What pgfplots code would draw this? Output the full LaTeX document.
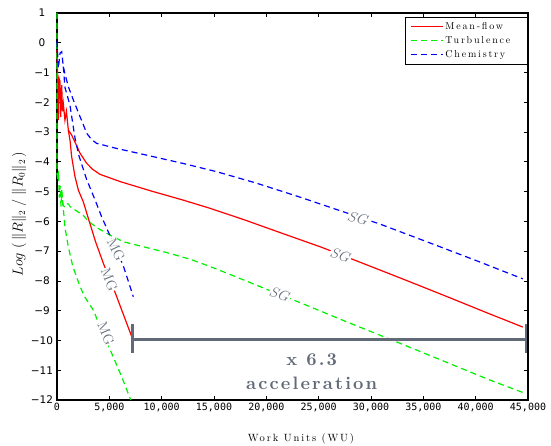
\documentclass[border=0pt]{standalone}
\usepackage{pgfplots}
\pgfplotsset{compat=1.18}
\usepackage{fontspec}
\usetikzlibrary{calc}
\newfontfamily\tickmono{DejaVu Sans Mono}
\newfontfamily\ticksans{DejaVu Sans}
\newfontfamily\lmsp{lmroman10-regular.otf}[LetterSpace=18, BoldFont=lmroman10-bold.otf]
\newfontfamily\lmbig{lmroman10-bold.otf}[LetterSpace=12]
\definecolor{mfred}{RGB}{255,0,0}
\definecolor{tugreen}{RGB}{0,240,0}
\definecolor{chblue}{RGB}{0,0,255}
\definecolor{annot}{RGB}{98,106,120}

\begin{document}
\begin{tikzpicture}
\begin{axis}[
  scale only axis,
  width=471pt, height=387pt,
  xmin=0, xmax=45000, ymin=-12, ymax=1,
  clip=false,
  scaled x ticks=false,
  axis line style={line width=1.3pt},
  tick style={black, line width=0.8pt},
  major tick length=4pt,
  xtick={0,5000,...,45000},
  xticklabels={0,{5,000},{10,000},{15,000},{20,000},{25,000},{30,000},{35,000},{40,000},{45,000}},
  xticklabel style={font=\tickmono\fontsize{10}{12}\selectfont},
  ytick={-12,-11,...,1},
  yticklabels={−12,−11,−10,−9,−8,−7,−6,−5,−4,−3,−2,−1,0,1},
  yticklabel style={font=\ticksans\fontsize{10.5}{12}\selectfont, anchor=center, xshift=-15pt},
  xlabel={\lmsp\fontsize{10.5}{12}\selectfont Work Units (WU)},
  xlabel style={at={(axis description cs:0.518,0)}, anchor=base, yshift=-42pt},
  ylabel={\fontsize{13.5}{15}\selectfont$Log\ (\,\|R\|_2\;/\;\|R_0\|_2\,)$},
  ylabel style={at={($(axis description cs:0,0.48)+(-38pt,0pt)$)}, anchor=center},
  legend style={at={(1,1)}, anchor=north east, xshift=-0.5pt, yshift=-4pt,
    font=\lmsp\fontsize{10}{12}\selectfont,
    inner xsep=5pt, inner ysep=3pt, row sep=1.5pt, cells={anchor=west}},
  legend image code/.code={\draw[#1] (0pt,0pt) -- (32pt,0pt);},
]
\addlegendimage{draw=mfred, line width=1.2pt}
\addlegendentry{Mean-flow}
\addlegendimage{draw=tugreen, line width=1.2pt, dash pattern=on 6pt off 4pt}
\addlegendentry{Turbulence\hspace*{10pt}}
\addlegendimage{draw=chblue, line width=1.2pt, dash pattern=on 6pt off 4pt}
\addlegendentry{Chemistry}
% single grid (SG) runs
\addplot[draw=mfred, line width=1.2pt, forget plot] coordinates {
(0,-0.24) (60,-1.1) (130,-2.6) (200,-1.2) (290,-1.3) (350,-2.5) (450,-1.42)
(520,-2.3) (600,-2.03) (760,-2.6) (900,-2.3) (1080,-2.93) (1400,-3.1)
(1800,-3.4) (2200,-3.71) (2840,-4.05) (3400,-4.25) (4110,-4.42) (6000,-4.66)
(9000,-4.98) (12000,-5.28) (14610,-5.56) (18000,-5.96) (21500,-6.4)
(25280,-6.87) (28940,-7.37) (33000,-7.93) (37000,-8.49) (41000,-9.06) (44500,-9.55)};
\addplot[draw=tugreen, line width=1.2pt, dash pattern=on 6pt off 4pt, forget plot] coordinates {
(0,1) (0,-4.4) (80,-4.6) (150,-4.3) (220,-5.2) (300,-4.8) (380,-5.5) (460,-5.0)
(560,-5.45) (700,-5.5) (900,-5.4) (1100,-5.42) (1240,-5.5) (2000,-5.68)
(2520,-5.8) (2990,-6.0) (4000,-6.25) (5060,-6.46) (6300,-6.68) (8220,-6.85)
(10500,-7.05) (12700,-7.27) (14500,-7.5) (16520,-7.78) (19390,-8.19)
(23370,-8.75) (27500,-9.35) (31970,-9.98) (36500,-10.63) (41360,-11.33) (44600,-11.76)};
\addplot[draw=chblue, line width=1.2pt, dash pattern=on 6pt off 4pt, forget plot] coordinates {
(0,0.05) (130,-0.85) (290,-0.35) (450,-0.3) (600,-0.8) (800,-1.1) (1080,-1.47)
(1560,-1.92) (2200,-2.48) (2840,-3.04) (3300,-3.25) (3790,-3.38) (5700,-3.55)
(8000,-3.73) (12000,-4.05) (15250,-4.33) (19000,-4.71) (23000,-5.16)
(26870,-5.62) (30850,-6.09) (35000,-6.64) (40000,-7.31) (44500,-7.93)};
% multigrid (MG) runs
\addplot[draw=mfred, line width=1.2pt, forget plot] coordinates {
(1080,-2.93) (1250,-3.3) (1400,-3.83) (1720,-4.5) (2040,-4.95) (2520,-5.35)
(3080,-6.0) (3700,-6.7) (4430,-7.41) (5640,-8.47) (7200,-9.93)};
\addplot[draw=tugreen, line width=1.2pt, dash pattern=on 6pt off 4pt, forget plot] coordinates {
(450,-4.95) (760,-6.2) (1080,-6.85) (1500,-7.5) (2200,-8.19) (2670,-8.55)
(3470,-8.98) (4300,-9.7) (5220,-10.43) (6100,-11.15) (7050,-12)};
\addplot[draw=chblue, line width=1.2pt, dash pattern=on 6pt off 4pt, forget plot] coordinates {
(600,-0.8) (760,-1.5) (1240,-2.1) (1720,-3.2) (2100,-3.8) (2840,-4.6) (3310,-5.0)
(3660,-5.3) (4270,-5.85) (4900,-6.35) (5600,-6.9) (6340,-7.5) (7290,-8.53)};

% labels on the curves
\tikzset{lab/.style={text=annot, fill=white, inner sep=0.5pt, font=\fontsize{14}{16}\selectfont}}
\node[lab, rotate=-64] at (axis cs:5640,-6.96) {MG};
\node[lab, rotate=-68] at (axis cs:5000,-7.95) {MG};
\node[lab, rotate=-67] at (axis cs:4680,-9.76) {MG};
\node[lab, rotate=-17] at (axis cs:28780,-5.9) {$SG$};
\node[lab, rotate=-20] at (axis cs:27100,-7.13) {$SG$};
\node[lab, rotate=-21] at (axis cs:21300,-8.45) {$SG$};

% acceleration bracket
\draw[annot, line width=2.5pt] (axis cs:7230,-9.96) -- (axis cs:44790,-9.96);
\draw[annot, line width=2.5pt] (axis cs:7230,-9.45) -- (axis cs:7230,-10.42);
\draw[annot, line width=2.5pt] (axis cs:44790,-9.45) -- (axis cs:44790,-10.42);
\node[text=annot, align=center, font=\lmbig\fontsize{18}{24}\selectfont]
  at (axis cs:24330,-11.06) {x 6.3\\acceleration};
\end{axis}
\pgfresetboundingbox
\path[use as bounding box] ($(current axis.south west)+(-57pt,-46pt)$) rectangle ($(current axis.north east)+(23pt,13pt)$);
\end{tikzpicture}
\end{document}
